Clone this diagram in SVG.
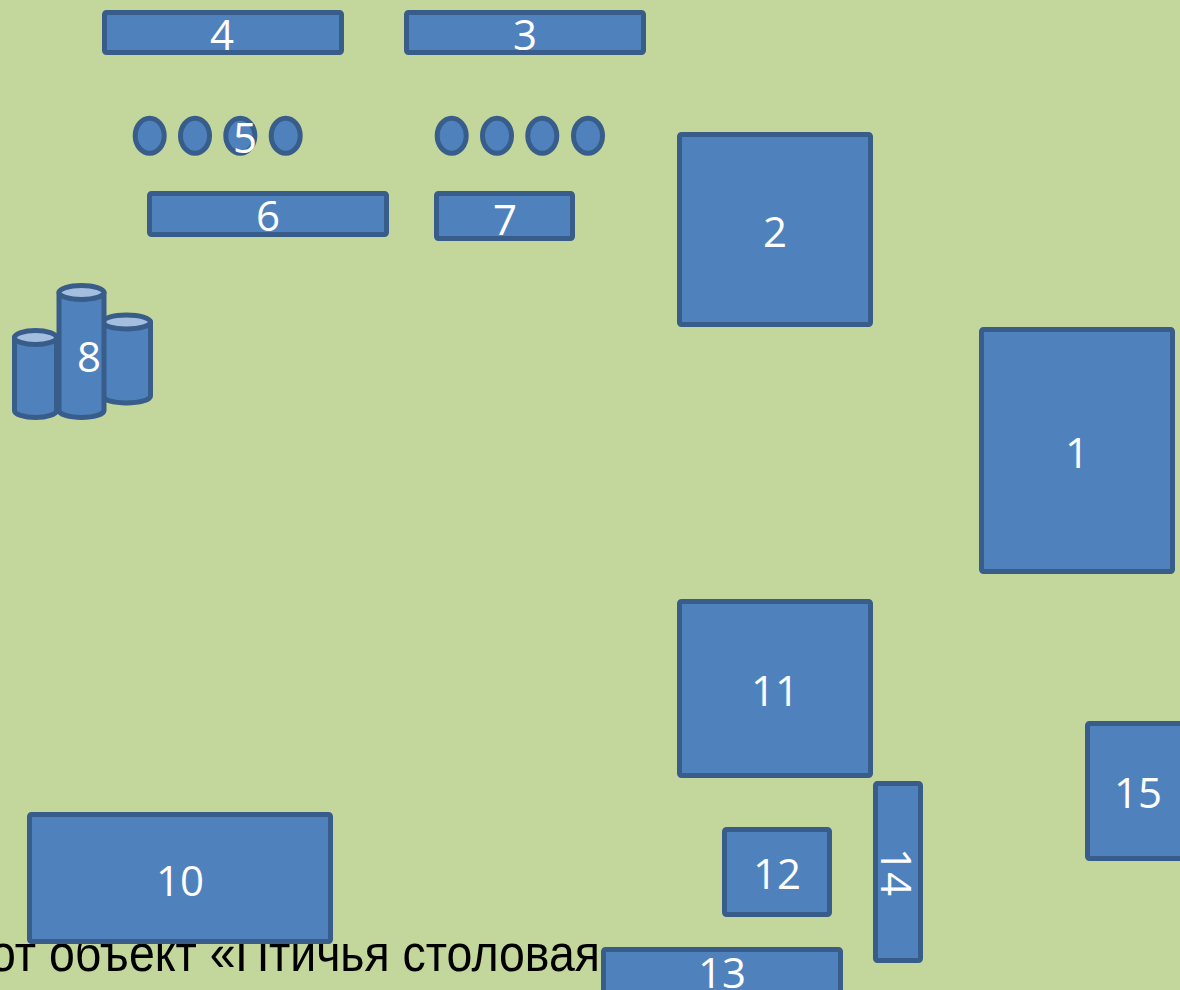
<svg xmlns="http://www.w3.org/2000/svg" width="1180" height="990" viewBox="0 0 1180 990">
<style>
.n{fill:#4F81BD;stroke:#385D8A;stroke-width:5;stroke-linejoin:round}
.top{fill:#A4BEDF;stroke:#385D8A;stroke-width:5}
.l{font-family:"Open Sans","Noto Sans",sans-serif;font-size:42px;fill:#FFFFFF;text-anchor:middle}
.cap{font-family:"Liberation Sans",Arial,sans-serif;font-size:52px;fill:#000000}
</style>
<rect x="0" y="0" width="1180" height="990" fill="#C3D69B"/>
<text class="cap" x="-10" y="971" textLength="610" lengthAdjust="spacingAndGlyphs">от объект «Птичья столовая</text>
<g id="connectors"/>
<g id="n4"><rect class="n" x="104.5" y="12.5" width="237" height="40" rx="2"/><text class="l" x="222" y="50">4</text></g>
<g id="n3"><rect class="n" x="406.5" y="12.5" width="237" height="40" rx="2"/><text class="l" x="525" y="50">3</text></g>
<g id="n5">
<ellipse class="n" cx="149.7" cy="135.7" rx="14.5" ry="17.5"/>
<ellipse class="n" cx="195" cy="135.7" rx="14.5" ry="17.5"/>
<ellipse class="n" cx="240.3" cy="135.7" rx="14.5" ry="17.5"/>
<ellipse class="n" cx="285.7" cy="135.7" rx="14.5" ry="17.5"/>
<text class="l" x="245" y="153">5</text>
</g>
<g id="n5b">
<ellipse class="n" cx="451.7" cy="135.7" rx="14.5" ry="17.5"/>
<ellipse class="n" cx="497" cy="135.7" rx="14.5" ry="17.5"/>
<ellipse class="n" cx="542.3" cy="135.7" rx="14.5" ry="17.5"/>
<ellipse class="n" cx="588" cy="135.7" rx="14.5" ry="17.5"/>
</g>
<g id="n6"><rect class="n" x="149.5" y="193.5" width="237" height="41" rx="2"/><text class="l" x="268" y="231">6</text></g>
<g id="n7"><rect class="n" x="436.5" y="193.5" width="136" height="45" rx="2"/><text class="l" x="505" y="235">7</text></g>
<g id="n2"><rect class="n" x="679.5" y="134.5" width="191" height="190" rx="2"/><text class="l" x="775" y="247">2</text></g>
<g id="n8">
<path class="n" d="M14.5,337.5 L14.5,410.5 A21,7 0 0 0 56.5,410.5 L56.5,337.5 Z"/>
<ellipse class="top" cx="35.5" cy="337.5" rx="21" ry="7"/>
<path class="n" d="M102.5,322 L102.5,396 A24,7 0 0 0 150.5,396 L150.5,322 Z"/>
<ellipse class="top" cx="126.5" cy="322" rx="24" ry="7"/>
<path class="n" d="M59,292.5 L59,410.5 A22.5,7 0 0 0 104,410.5 L104,292.5 Z"/>
<ellipse class="top" cx="81.5" cy="292.5" rx="22.5" ry="7"/>
<text class="l" x="89" y="372">8</text>
</g>
<g id="n1"><rect class="n" x="981.5" y="329.5" width="191" height="242" rx="2"/><text class="l" x="1077" y="468">1</text></g>
<g id="n11"><rect class="n" x="679.5" y="601.5" width="191" height="174" rx="2"/><text class="l" x="775" y="706">11</text></g>
<g id="n15"><rect class="n" x="1087.5" y="723.5" width="120" height="135" rx="2"/><text class="l" x="1138" y="808">15</text></g>
<g id="n10"><rect class="n" x="29.5" y="814.5" width="301" height="127" rx="2"/><text class="l" x="180" y="896">10</text></g>
<g id="n12"><rect class="n" x="724.5" y="829.5" width="105" height="85" rx="2"/><text class="l" x="777" y="889">12</text></g>
<g id="n14"><rect class="n" x="875.5" y="783.5" width="45" height="177" rx="2"/><text class="l" transform="translate(881,872) rotate(90)" x="0" y="0">14</text></g>
<g id="n13"><rect class="n" x="603.5" y="949.5" width="237" height="60" rx="2"/><text class="l" x="722" y="988">13</text></g>
</svg>
